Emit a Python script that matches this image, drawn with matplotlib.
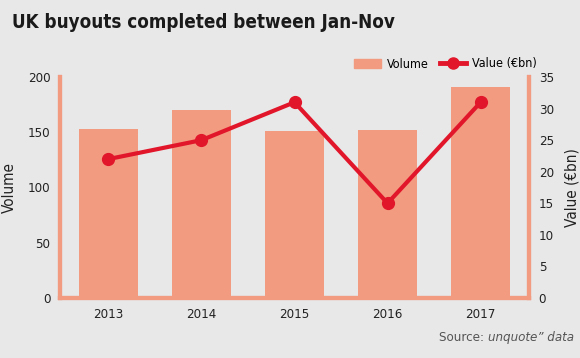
import numpy as np
import matplotlib.pyplot as plt
from matplotlib.lines import Line2D
from matplotlib.patches import Patch

years = ["2013", "2014", "2015", "2016", "2017"]
volume = [153, 170, 151, 152, 191]
value_bn = [22, 25, 31, 15, 31]

bg = "#e8e8e8"
bar_col = "#f39b80"
line_col = "#e2162b"

plt.rcParams['font.family'] = ["DejaVu Sans"]
plt.rcParams['font.stretch'] = "condensed"

fig = plt.figure(figsize=(5.8, 3.58), dpi=100, facecolor=bg)
ax = fig.add_axes([60/580, 1 - 298/358, (529 - 60)/580, (298 - 77)/358])
ax.set_facecolor(bg)

x = np.arange(len(years))
ax.bar(x, volume, width=0.64, color=bar_col, zorder=2)
ax.set_xlim(-0.52, 4.52)
ax.set_ylim(0, 200)
ax.set_yticks([0, 50, 100, 150, 200])
ax.set_xticks(x)
ax.set_xticklabels(years)
ax.tick_params(length=0, labelsize=9.5, colors="#222222", pad=7)
ax.set_ylabel("Volume", fontsize=11, color="#222222", labelpad=8)

ax2 = ax.twinx()
ax2.plot(x, value_bn, color=line_col, lw=3, marker="o", ms=8.5, zorder=3)
ax2.set_ylim(0, 35)
ax2.set_yticks(range(0, 36, 5))
ax2.tick_params(length=0, labelsize=9.5, colors="#222222", pad=7)
ax2.set_ylabel("Value (€bn)", fontsize=11, color="#222222", rotation=90, labelpad=8)

for a in (ax, ax2):
    a.spines["top"].set_visible(False)
    for s in ("left", "right", "bottom"):
        a.spines[s].set_color(bar_col)
        a.spines[s].set_linewidth(3)

fig.text(12/580, 1 - 22/358, "UK buyouts completed between Jan-Nov",
         fontsize=13.5, fontweight="bold", color="#1a1a1a", va="center")

handles = [Patch(color=bar_col),
           Line2D([0], [0], color=line_col, lw=3.5, marker="o", ms=8)]
fig.legend(handles, ["Volume", "Value (€bn)"], loc="center left",
           bbox_to_anchor=(343/580, 1 - 64/358), ncol=2, frameon=False,
           fontsize=9, handlelength=2.1, columnspacing=0.9, handletextpad=0.5)

ybase = 1 - 341/358
t = fig.text(574/580, ybase, "unquote\u201d data", fontsize=9.5,
             color="#555555", style="italic", ha="right", va="baseline")
s = fig.text(0.9, ybase, "Source: ", fontsize=9.5, color="#555555",
             ha="right", va="baseline")
fig.canvas.draw()
bb = t.get_window_extent()
s.set_position((bb.x0 / fig.bbox.width, ybase))

fig.savefig("out.png", dpi=100, facecolor=bg)
